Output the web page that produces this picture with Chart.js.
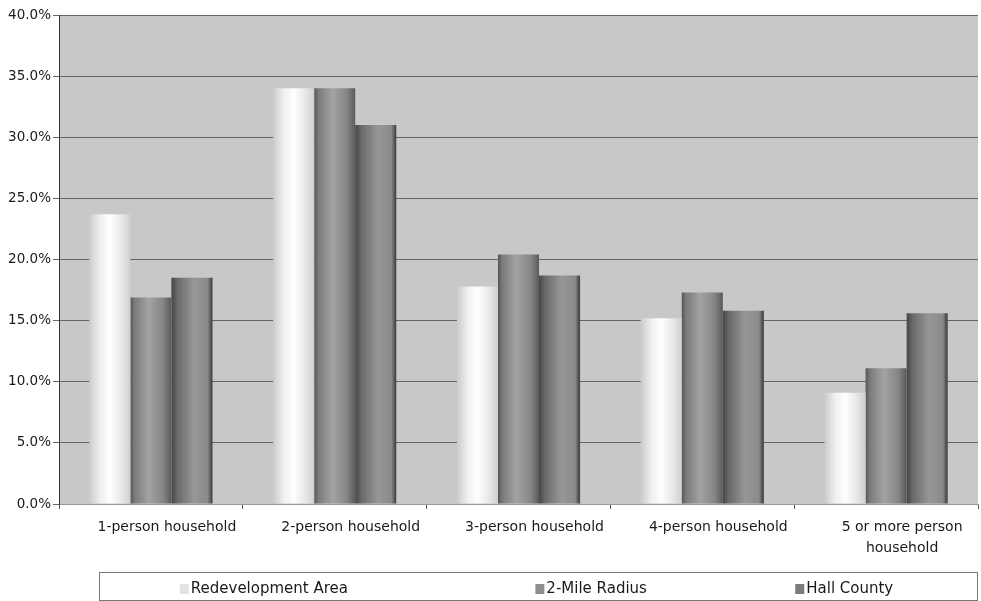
<!DOCTYPE html>
<html>
<head>
<meta charset="utf-8">
<script src="https://cdn.jsdelivr.net/npm/chart.js@4/dist/chart.umd.min.js"></script>
<style>
  html, body { margin: 0; padding: 0; background: #ffffff; }
  #wrap { width: 981px; height: 601px; position: relative; }
</style>
</head>
<body>
<div id="wrap"><canvas id="chart" width="981" height="601"></canvas></div>
<script>
// Household size distribution
const categories = [
  '1-person household',
  '2-person household',
  '3-person household',
  '4-person household',
  ['5 or more person', 'household']
];
const seriesNames = ['Redevelopment Area', '2-Mile Radius', 'Hall County'];
const redevelopmentArea = [23.7, 34.0, 17.8, 15.2, 9.1];
const twoMileRadius = [16.9, 34.0, 20.4, 17.3, 11.1];
const hallCounty = [18.5, 31.0, 18.7, 15.8, 15.6];
const yTicks = [0, 5, 10, 15, 20, 25, 30, 35, 40];

// cylinder-style shading for each series (left edge -> right edge)
const shades = [
  [[0, '#cbcbcb'], [0.25, '#eeeeee'], [0.5, '#ffffff'], [0.8, '#e6e6e6'], [1, '#cfcfcf']],
  [[0, '#555555'], [0.1, '#7a7a7a'], [0.45, '#a3a3a3'], [0.8, '#858585'], [1, '#5a5a5a']],
  [[0, '#454545'], [0.15, '#6a6a6a'], [0.55, '#979797'], [0.88, '#8a8a8a'], [1, '#3a3a3a']]
];
const legendSwatch = ['#e2e2e2', '#8e8e8e', '#7c7c7c'];

const CAT_PCT = 0.67;

function barFill(ctx) {
  const chart = ctx.chart;
  const ds = ctx.datasetIndex;
  const xs = chart.scales.x;
  if (!chart.chartArea || !xs || ctx.dataIndex === undefined) return legendSwatch[ds];
  const catW = xs.width / categories.length;
  const bw = catW * CAT_PCT / 3;
  const center = xs.getPixelForValue(ctx.dataIndex);
  const left = center - 1.5 * bw + ds * bw;
  const g = chart.ctx.createLinearGradient(left, 0, left + bw, 0);
  shades[ds].forEach(s => g.addColorStop(s[0], s[1]));
  return g;
}

const plotBackground = {
  id: 'plotBackground',
  beforeDraw(chart) {
    const { ctx, chartArea: a } = chart;
    ctx.save();
    ctx.fillStyle = '#c8c8c8';
    ctx.fillRect(a.left, a.top, a.right - a.left, a.bottom - a.top);
    ctx.restore();
  }
};

const boxedLegend = {
  id: 'boxedLegend',
  afterDraw(chart) {
    const { ctx } = chart;
    const left = 99, top = 572, right = 977, bottom = 600;
    ctx.save();
    ctx.strokeStyle = '#777777';
    ctx.lineWidth = 1;
    ctx.strokeRect(left + 0.5, top + 0.5, right - left, bottom - top);
    const fr = [0.092, 0.497, 0.793];
    ctx.font = '15px "DejaVu Sans"';
    ctx.textBaseline = 'middle';
    chart.data.datasets.forEach((d, i) => {
      const x = left + (right - left) * fr[i];
      const y = 589;
      ctx.fillStyle = legendSwatch[i];
      ctx.fillRect(x, y - 5, 9, 10);
      ctx.fillStyle = '#1a1a1a';
      ctx.fillText(d.label, x + 11, y);
    });
    ctx.restore();
  }
};

const seriesData = [redevelopmentArea, twoMileRadius, hallCounty];

new Chart(document.getElementById('chart'), {
  type: 'bar',
  data: {
    labels: categories,
    datasets: seriesNames.map((name, i) => ({
      label: name,
      data: seriesData[i],
      backgroundColor: barFill,
      borderWidth: 0,
      categoryPercentage: CAT_PCT,
      barPercentage: 1.0
    }))
  },
  options: {
    responsive: false,
    animation: false,
    events: [],
    layout: { padding: { top: 15, right: 3, bottom: 35, left: 0 } },
    plugins: {
      legend: { display: false },
      tooltip: { enabled: false }
    },
    scales: {
      x: {
        grid: {
          offset: true,
          drawOnChartArea: false,
          tickLength: 5,
          color: '#555555'
        },
        border: { display: true, color: '#9a9a9a' },
        ticks: {
          color: '#1a1a1a',
          font: { family: 'DejaVu Sans', size: 14, lineHeight: 1.5 },
          padding: 8,
          labelOffset: 16,
          maxRotation: 0,
          autoSkip: false
        },
        afterFit(scale) { scale.height = 62; }
      },
      y: {
        min: 0,
        max: 40,
        afterBuildTicks(scale) { scale.ticks = yTicks.map(v => ({ value: v })); },
        grid: { color: '#666666', tickLength: 6 },
        border: { display: true, color: '#333333', width: 1 },
        ticks: {
          color: '#1a1a1a',
          font: { family: 'DejaVu Sans', size: 13.5 },
          padding: 2,
          callback: v => v.toFixed(1) + '%'
        },
        afterFit(scale) { scale.width = 59; }
      }
    }
  },
  plugins: [plotBackground, boxedLegend]
});
</script>
</body>
</html>
